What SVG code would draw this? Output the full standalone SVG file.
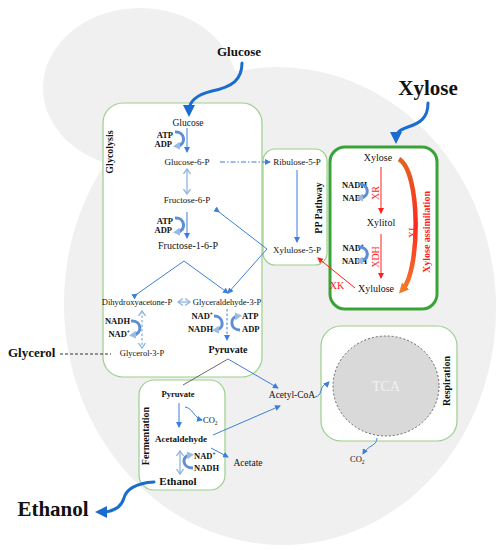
<svg xmlns="http://www.w3.org/2000/svg" width="497" height="550" viewBox="0 0 497 550">
<style>
text{font-family:"Liberation Serif","DejaVu Serif",serif;fill:#111}
.s{font-size:9px}
.b{font-weight:bold}
.cf{font-size:8.5px;font-weight:bold}
.lbl{font-size:10px;font-weight:bold}
.red{fill:#ff1a1a}
.box{fill:#fff;stroke:#9ccf8c;stroke-width:1.2}
.thin{fill:none;stroke:#3c7fd8;stroke-width:1}
.open{fill:none;stroke:#8fb4e3;stroke-width:1.3}
.cof{fill:none;stroke:#5d8fd2;stroke-width:3}
.rl{fill:none;stroke:#ff2020;stroke-width:1}
.big{fill:none;stroke:#1a6ccf;stroke-width:3;stroke-linecap:round}
</style>
<defs>
<marker id="mb" markerUnits="userSpaceOnUse" markerWidth="6" markerHeight="6" refX="5" refY="3" orient="auto"><path d="M0,0 L6,3 L0,6 z" fill="#3c7fd8"/></marker>
<marker id="mr" markerUnits="userSpaceOnUse" markerWidth="6" markerHeight="6" refX="5" refY="3" orient="auto"><path d="M0,0 L6,3 L0,6 z" fill="#ff2020"/></marker>
<marker id="mo" markerUnits="userSpaceOnUse" markerWidth="7" markerHeight="8" refX="5" refY="4" orient="auto-start-reverse"><path d="M0,0.5 L5,4 L0,7.5" fill="none" stroke="#8fb4e3" stroke-width="1.3"/></marker>
<marker id="mt" markerUnits="userSpaceOnUse" markerWidth="12" markerHeight="12" refX="6" refY="6" orient="auto"><path d="M0,0 L12,6 L0,12 z" fill="#1a6ccf"/></marker>
<marker id="mc" markerUnits="userSpaceOnUse" markerWidth="7" markerHeight="8" refX="3" refY="4" orient="auto"><path d="M0,0 L7,4 L0,8 z" fill="#9bbbe6"/></marker>
<marker id="mx" markerUnits="userSpaceOnUse" markerWidth="10" markerHeight="10" refX="4" refY="5" orient="auto"><path d="M0,0 L10,5 L0,10 z" fill="#f07a2a"/></marker>
<linearGradient id="gx" gradientUnits="userSpaceOnUse" x1="0" y1="158" x2="0" y2="292"><stop offset="0" stop-color="#e0661e"/><stop offset="0.5" stop-color="#ff2a1e"/><stop offset="1" stop-color="#f37a2a"/></linearGradient>
</defs>

<g id="background">
<ellipse cx="140" cy="88" rx="97" ry="80" fill="#f0f0f0"/>
<ellipse cx="280" cy="306" rx="216" ry="239" transform="rotate(-3 280 306)" fill="#f0f0f0"/>
</g>

<g id="glycolysis">
<rect class="box" x="103" y="103" width="159" height="274" rx="20"/>
<text class="lbl" transform="rotate(-90 113 152)" x="113" y="152" text-anchor="middle">Glycolysis</text>
<text x="188" y="126" text-anchor="middle" font-size="9.5">Glucose</text>
<text class="cf" x="173" y="137.5" text-anchor="end">ATP</text>
<text class="cf" x="172" y="147" text-anchor="end">ADP</text>
<text class="s" x="187" y="165" text-anchor="middle">Glucose-6-P</text>
<text class="s" x="187" y="203" text-anchor="middle">Fructose-6-P</text>
<text class="cf" x="173" y="224" text-anchor="end">ATP</text>
<text class="cf" x="172" y="233" text-anchor="end">ADP</text>
<text x="188" y="248.5" text-anchor="middle" font-size="10">Fructose-1-6-P</text>
<text x="137" y="304.5" text-anchor="middle" font-size="8.5">Dihydroxyacetone-P</text>
<text x="227" y="304.5" text-anchor="middle" font-size="8.5">Glyceraldehyde-3-P</text>
<text class="cf" x="130" y="324" text-anchor="end">NADH</text>
<text class="cf" x="130" y="337" text-anchor="end">NAD<tspan font-size="5.5" dy="-3">+</tspan></text>
<text x="142" y="356" text-anchor="middle" font-size="8.5">Glycerol-3-P</text>
<text class="cf" x="213" y="319" text-anchor="end">NAD<tspan font-size="5.5" dy="-3">+</tspan></text>
<text class="cf" x="213" y="332" text-anchor="end">NADH</text>
<text class="cf" x="242" y="319">ATP</text>
<text class="cf" x="242" y="332">ADP</text>
<text x="228" y="352.5" text-anchor="middle" font-size="10" font-weight="bold">Pyruvate</text>
</g>

<g id="pp-pathway">
<rect class="box" x="263" y="149" width="64" height="116" rx="12"/>
<text class="s" x="297" y="165" text-anchor="middle">Ribulose-5-P</text>
<text class="s" x="297" y="253" text-anchor="middle">Xylulose-5-P</text>
<text class="lbl" transform="rotate(-90 322 208)" x="322" y="208" text-anchor="middle">PP Pathway</text>
</g>

<g id="xylose-assimilation">
<rect x="330" y="147" width="107" height="162" rx="15" fill="#fff" stroke="#3aa337" stroke-width="3"/>
<text x="378" y="161" text-anchor="middle" font-size="10">Xylose</text>
<text class="cf" x="367" y="188" text-anchor="end">NADH</text>
<text class="cf" x="364" y="201" text-anchor="end">NAD<tspan font-size="5.5" dy="-3">+</tspan></text>
<text class="red" transform="rotate(-90 379 193)" x="379" y="193" text-anchor="middle" font-size="10">XR</text>
<text x="381" y="225.5" text-anchor="middle" font-size="10">Xylitol</text>
<text class="cf" x="364" y="251" text-anchor="end">NAD<tspan font-size="5.5" dy="-3">+</tspan></text>
<text class="cf" x="367" y="264" text-anchor="end">NADH</text>
<text class="red" transform="rotate(-90 378.5 257)" x="378.5" y="257" text-anchor="middle" font-size="10">XDH</text>
<text x="376" y="291.5" text-anchor="middle" font-size="10">Xylulose</text>
<text class="red" x="337" y="288.5" text-anchor="middle" font-size="10">XK</text>
<text class="red" transform="rotate(-90 416 233)" x="416" y="233" text-anchor="middle" font-size="10">XI</text>
<text class="lbl red" transform="rotate(-90 430 232)" x="430" y="232" text-anchor="middle">Xylose assimilation</text>
</g>

<g id="respiration">
<rect class="box" x="321" y="326" width="136" height="115" rx="20"/>
<ellipse cx="386" cy="386" rx="53" ry="50" fill="#d9d9d9" stroke="#666" stroke-width="1" stroke-dasharray="2,2"/>
<text x="386" y="391" text-anchor="middle" font-size="14" style="fill:#f2f2f2">TCA</text>
<text class="lbl" transform="rotate(-90 450 381)" x="450" y="381" text-anchor="middle">Respiration</text>
</g>

<g id="fermentation">
<rect class="box" x="139" y="380" width="86" height="110" rx="15"/>
<text x="178" y="397" text-anchor="middle" font-size="8.5" font-weight="bold">Pyruvate</text>
<text x="203" y="423" font-size="8.5">CO<tspan font-size="5.5" dy="2">2</tspan></text>
<text x="181" y="442" text-anchor="middle" font-size="9" font-weight="bold">Acetaldehyde</text>
<text class="cf" x="194" y="459">NAD<tspan font-size="5.5" dy="-3">+</tspan></text>
<text class="cf" x="194" y="471">NADH</text>
<text x="178" y="485" text-anchor="middle" font-size="11" font-weight="bold">Ethanol</text>
<text class="lbl" transform="rotate(-90 149 436)" x="149" y="436" text-anchor="middle">Fermentation</text>
</g>

<g id="outside-labels">
<text x="239" y="55.5" text-anchor="middle" font-size="13" font-weight="bold">Glucose</text>
<text x="428" y="95" text-anchor="middle" font-size="21" font-weight="bold">Xylose</text>
<text x="53" y="516" text-anchor="middle" font-size="21" font-weight="bold">Ethanol</text>
<text x="8" y="357" font-size="13" font-weight="bold">Glycerol</text>
<text x="292" y="398" text-anchor="middle" font-size="9.5">Acetyl-CoA</text>
<text x="248" y="466" text-anchor="middle" font-size="9.5">Acetate</text>
<text x="350" y="462" font-size="8.5">CO<tspan font-size="5.5" dy="2">2</tspan></text>
</g>

<g id="connectors">
<path class="big" d="M242,63 C242,80 232,87 212,91 C196,95 189,101 189,111" marker-end="url(#mt)"/>
<path class="big" d="M428,103 C428,118 420,123 408,127 C399,130 396,133 396,138" marker-end="url(#mt)"/>
<path class="big" d="M154,482 C135,483 126,490 124,498 C121,508 112,512 101,512" marker-end="url(#mt)"/>
<line x1="60" y1="354" x2="111" y2="354" stroke="#333" stroke-width="1" stroke-dasharray="3,2"/>

<line class="thin" x1="187" y1="128" x2="187" y2="152" marker-end="url(#mb)"/>
<path class="cof" d="M175,132 C185,131 187,145 177,146" marker-end="url(#mc)"/>
<line class="open" x1="187" y1="169" x2="187" y2="194" marker-start="url(#mo)" marker-end="url(#mo)"/>
<line class="thin" x1="187" y1="212" x2="187" y2="238" marker-end="url(#mb)"/>
<path class="cof" d="M175,218 C185,217 187,231 177,232" marker-end="url(#mc)"/>
<polyline class="thin" points="137,294 184,261 228,293" marker-start="url(#mb)" marker-end="url(#mb)"/>
<polyline class="thin" points="219,212 267,249 228,293" marker-start="url(#mb)" marker-end="url(#mb)"/>
<line class="open" x1="178" y1="302" x2="190" y2="302" marker-start="url(#mo)" marker-end="url(#mo)"/>
<line class="open" x1="142" y1="311" x2="142" y2="348" stroke-dasharray="2.5,2" marker-start="url(#mo)" marker-end="url(#mo)"/>
<path class="cof" d="M131,321 C142,320 143,334 133,335" marker-end="url(#mc)"/>
<line class="thin" x1="227" y1="309" x2="227" y2="340" stroke-dasharray="2.5,2" marker-end="url(#mb)"/>
<path class="cof" d="M214,316 C224,316 225,329 216,330" marker-end="url(#mc)"/>
<path class="cof" d="M240,330 C230,330 229,317 238,316" marker-end="url(#mc)"/>

<line class="thin" x1="220" y1="162" x2="270" y2="162" stroke-dasharray="5,2,1.5,2" marker-end="url(#mb)"/>
<line class="thin" x1="297" y1="170" x2="297" y2="242" marker-end="url(#mb)"/>

<line class="rl" x1="381" y1="167" x2="381" y2="213" marker-end="url(#mr)"/>
<line class="rl" x1="381" y1="234" x2="381" y2="278" marker-end="url(#mr)"/>
<path class="cof" d="M358,184 C369,183 371,197 360,198" marker-end="url(#mc)"/>
<path class="cof" d="M358,247 C369,246 371,260 360,261" marker-end="url(#mc)"/>
<line class="rl" x1="355" y1="288" x2="318" y2="258" marker-end="url(#mr)"/>
<path d="M399,159 C421,172 420,270 403,289" fill="none" stroke="url(#gx)" stroke-width="4.5" marker-end="url(#mx)"/>

<line class="thin" x1="228" y1="359" x2="278" y2="388" marker-end="url(#mb)"/>
<line x1="228" y1="359" x2="183" y2="385" stroke="#444" stroke-width="0.8"/>
<line class="thin" x1="213" y1="435" x2="280" y2="406" marker-end="url(#mb)"/>
<path class="thin" d="M315,397 C322,396 320,388 324,385 C326,383 328,383 329,382" marker-end="url(#mb)"/>
<path class="thin" d="M377,438 C377,446 368,445 363,454" marker-end="url(#mb)"/>

<line class="thin" x1="179" y1="403" x2="179" y2="427" marker-end="url(#mb)"/>
<path class="thin" d="M185,407 C193,408 194,418 202,420" marker-end="url(#mb)"/>
<line class="thin" x1="211" y1="448" x2="228" y2="457" marker-end="url(#mb)"/>
<line class="open" x1="180" y1="451" x2="180" y2="474" marker-start="url(#mo)" marker-end="url(#mo)"/>
<path class="cof" d="M193,468 C182,468 181,456 190,455" marker-end="url(#mc)"/>
</g>
</svg>
